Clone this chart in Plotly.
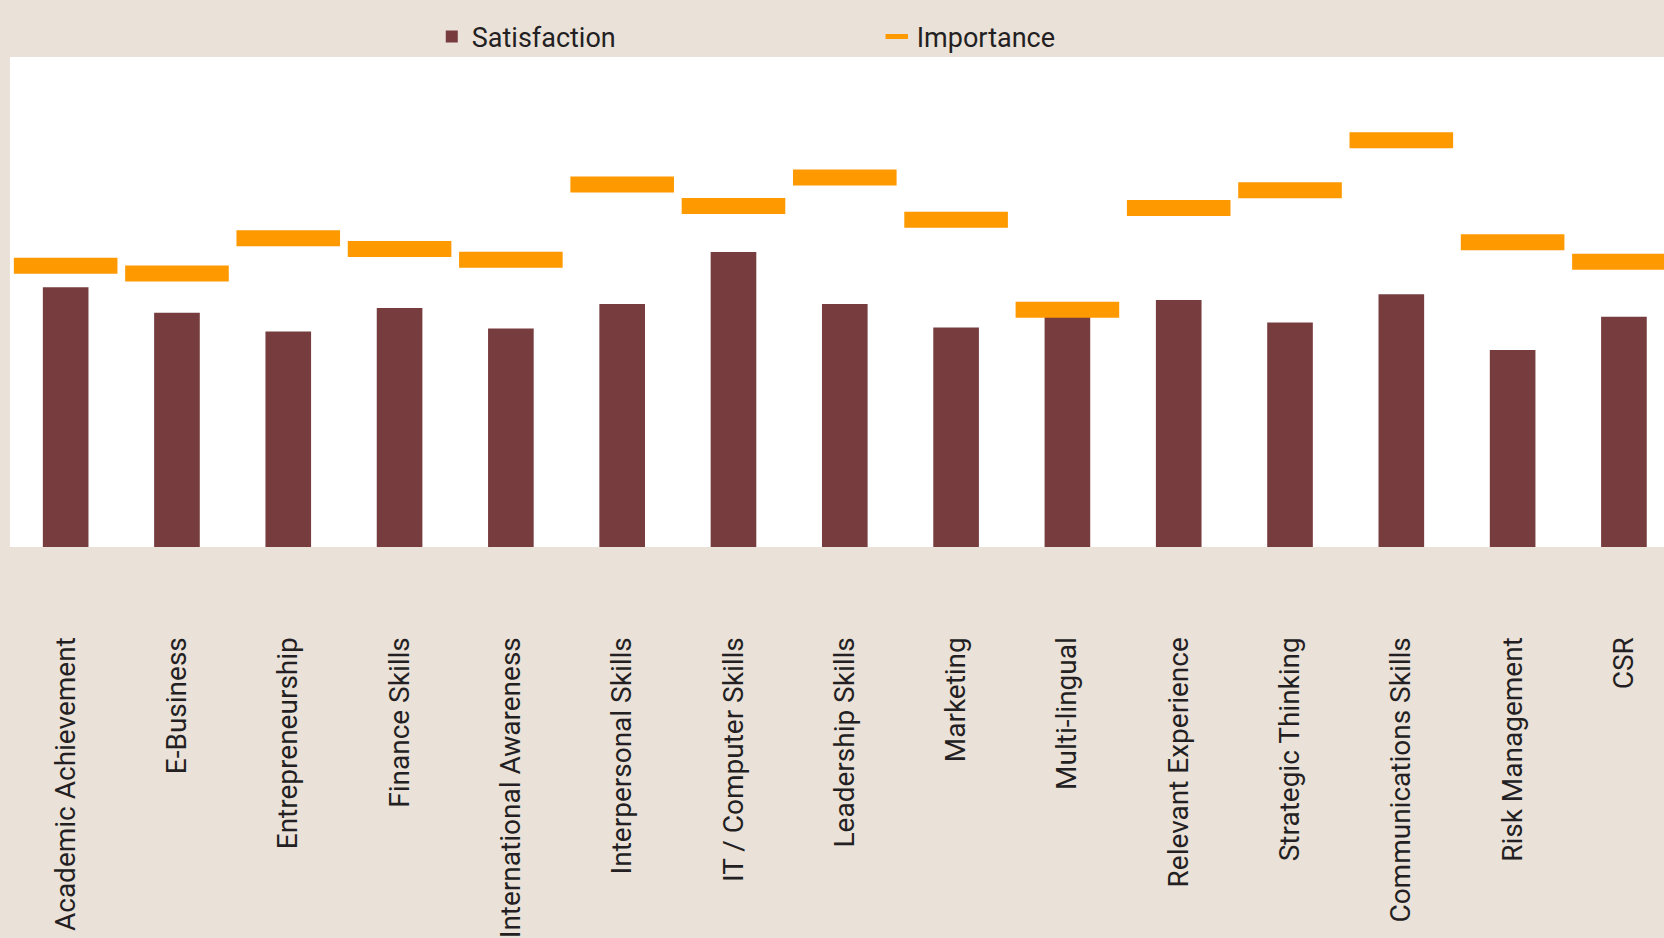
import plotly.graph_objects as go

categories = [
    "Academic Achievement", "E-Business", "Entrepreneurship", "Finance Skills",
    "International Awareness", "Interpersonal Skills", "IT / Computer Skills",
    "Leadership Skills", "Marketing", "Multi-lingual", "Relevant Experience",
    "Strategic Thinking", "Communications Skills", "Risk Management", "CSR",
]
satisfaction = [2.65, 2.39, 2.20, 2.44, 2.23, 2.48, 3.01, 2.48, 2.24, 2.35,
                 2.52, 2.29, 2.58, 2.01, 2.35]
importance = [2.87, 2.79, 3.15, 3.04, 2.93, 3.70, 3.48, 3.77, 3.34, 2.42,
              3.46, 3.64, 4.15, 3.11, 2.91]

FONT = "Roboto, Liberation Sans, sans-serif"
BAR = "#763c3e"
ORANGE = "#ff9900"
BG = "#eae1d8"
TEXT = "#231f22"

fig = go.Figure()
fig.add_trace(go.Bar(
    x=categories, y=satisfaction, name="Satisfaction",
    marker=dict(color=BAR, line=dict(width=0)), width=0.41,
))
fig.add_trace(go.Scatter(
    x=categories, y=importance, name="Importance", mode="markers",
    marker=dict(symbol="line-ew", size=74, color=ORANGE,
                line=dict(color=ORANGE, width=16)),
    cliponaxis=True,
))

fig.update_layout(
    width=1664, height=938, autosize=False,
    paper_bgcolor=BG, plot_bgcolor="white",
    margin=dict(l=10, r=0, t=57, b=391, pad=0, autoexpand=False),
    font=dict(family=FONT, size=28, color=TEXT),
    showlegend=True,
    legend=dict(orientation="h", x=0.255, xanchor="left", y=1.041, yanchor="middle",
                bgcolor="rgba(0,0,0,0)", font=dict(family=FONT, size=27, color=TEXT),
                entrywidth=400, entrywidthmode="pixels", traceorder="normal"),
)
fig.update_xaxes(
    range=[-0.5, 14.36], tickangle=-90, ticks="outside", ticklen=78,
    tickcolor="rgba(0,0,0,0)", showline=False, showgrid=False, zeroline=False,
    tickfont=dict(family=FONT, size=28, color=TEXT), fixedrange=True,
    automargin=False,
)
fig.update_yaxes(
    range=[0, 5], showticklabels=False, showgrid=False, zeroline=False,
    showline=False, ticks="", fixedrange=True, automargin=False,
)

fig.write_html("out.html", config={"displayModeBar": False},
               post_script="document.body.style.margin='0';")
